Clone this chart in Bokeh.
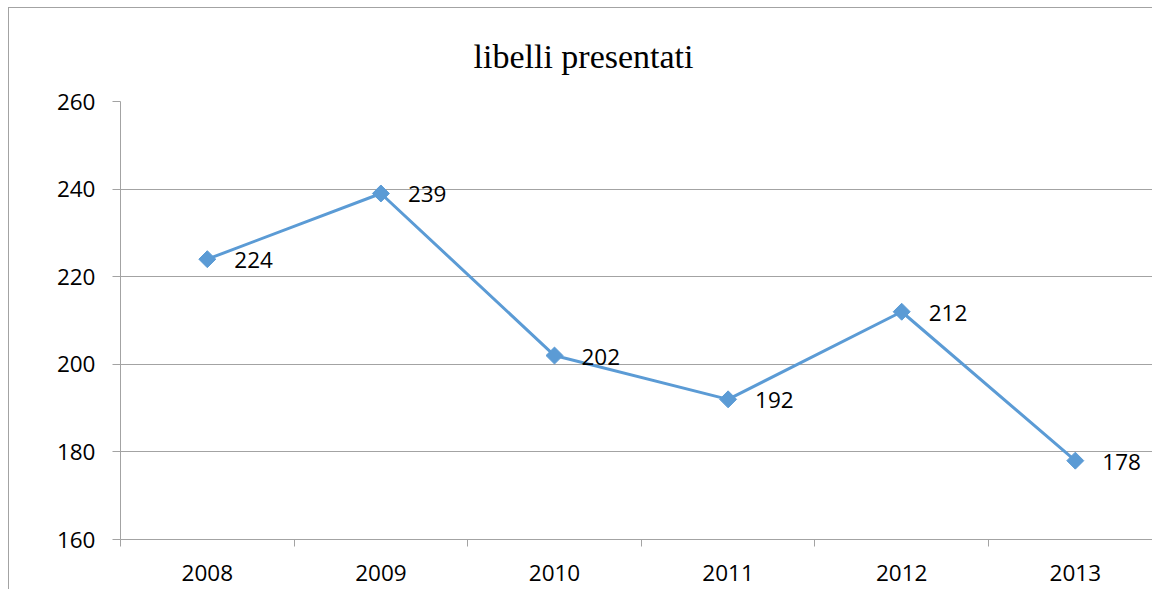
import math
from bokeh.plotting import figure
from bokeh.models import (Range1d, FixedTicker, ColumnDataSource, LabelSet, Title)
from bokeh.core.properties import value
from bokeh.embed import file_html
from bokeh.resources import INLINE

# ---- data ----
years = ["2008", "2009", "2010", "2011", "2012", "2013"]
values = [224, 239, 202, 192, 212, 178]
y_ticks = [160, 180, 200, 220, 240, 260]
title_text = "libelli presentati"

BLUE = "#5B9BD5"
GRAY = "#a3a3a3"
NUM_FONT = "Open Sans"
NUM_SIZE = "22.5px"

xs = list(range(len(years)))
src = ColumnDataSource(dict(x=xs, y=values, lab=[str(v) for v in values]))

W, H = 1144, 582
ML, MT, MB = 111, 93, 51
band = 173.6
x_end = -0.5 + (W - ML) / band

p = figure(width=W, height=H, output_backend="svg", toolbar_location=None,
           x_range=Range1d(-0.5, x_end), y_range=Range1d(y_ticks[0], y_ticks[-1]),
           min_border_left=ML, min_border_top=MT, min_border_bottom=MB,
           min_border_right=0,
           background_fill_color="white", border_fill_color="white",
           styles={"margin-left": "8px", "margin-top": "7px",
                   "border-left": f"1px solid {GRAY}", "border-top": f"1px solid {GRAY}"})
p.outline_line_color = None

t = Title(text=title_text, align="left", offset=353,
          text_font="Liberation Serif", text_font_size="34px",
          text_font_style="normal", text_color="black", standoff=53)
p.add_layout(t, "above")

# x axis
xa = p.xaxis[0]
xa.ticker = FixedTicker(ticks=xs, minor_ticks=[i - 0.5 for i in range(len(years) + 1)])
xa.major_label_overrides = {i: y for i, y in enumerate(years)}
xa.major_tick_out = 0
xa.major_tick_in = 0
xa.minor_tick_out = 7
xa.minor_tick_in = 0
xa.minor_tick_line_color = GRAY
xa.axis_line_color = GRAY
xa.major_label_standoff = 18
xa.major_label_text_font = NUM_FONT
xa.major_label_text_font_size = NUM_SIZE
xa.major_label_text_color = "black"

# y axis
ya = p.yaxis[0]
ya.ticker = FixedTicker(ticks=y_ticks, minor_ticks=[])
ya.major_tick_out = 8
ya.major_tick_in = 0
ya.major_tick_line_color = GRAY
ya.axis_line_color = GRAY
ya.major_label_standoff = 17
ya.major_label_text_font = NUM_FONT
ya.major_label_text_font_size = NUM_SIZE
ya.major_label_text_color = "black"

p.xgrid.grid_line_color = None
p.ygrid.grid_line_color = GRAY
p.ygrid.ticker = FixedTicker(ticks=y_ticks)

p.line("x", "y", source=src, line_color=BLUE, line_width=3)
p.scatter("x", "y", source=src, marker="square", angle=math.pi / 4, size=12,
          fill_color=BLUE, line_color=BLUE)

labels = LabelSet(x="x", y="y", text="lab", source=src, x_offset=27, y_offset=-1,
                  text_baseline="middle", text_align="left",
                  text_font=value(NUM_FONT), text_font_size=value(NUM_SIZE),
                  text_color="black")
p.add_layout(labels)

open("out.html", "w").write(file_html(p, INLINE))
